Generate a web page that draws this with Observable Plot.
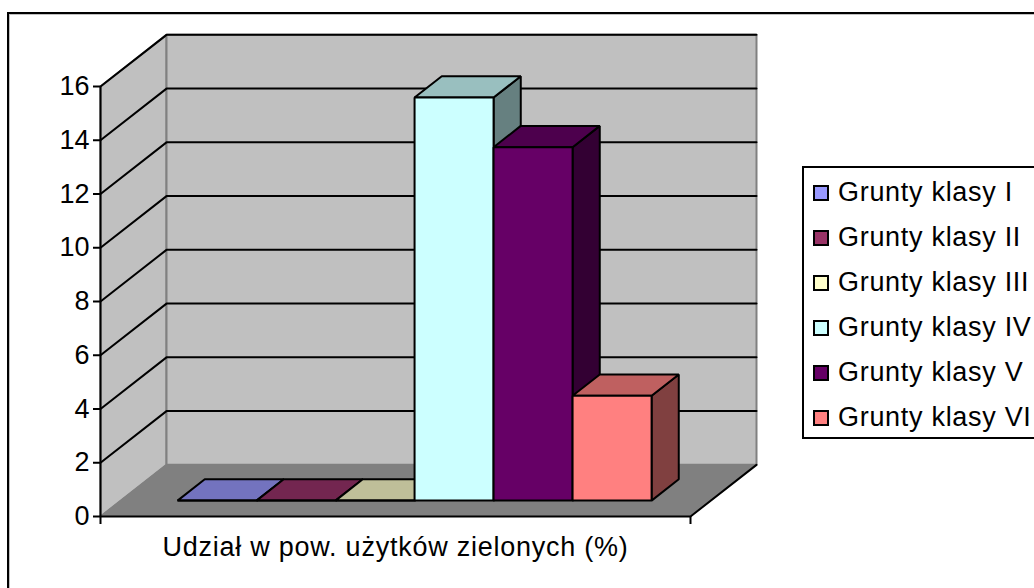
<!DOCTYPE html>
<html>
<head>
<meta charset="utf-8">
<script src="https://cdn.jsdelivr.net/npm/d3@7"></script>
<script src="https://cdn.jsdelivr.net/npm/@observablehq/plot@0.6"></script>
<style>
html,body{margin:0;padding:0;background:#fff;width:1034px;height:588px;overflow:hidden;font-family:"Liberation Sans",Arial,sans-serif;}
#frame{position:absolute;left:7px;top:12px;right:-10px;bottom:-10px;border:2px solid #000;box-shadow:inset 1px 1px 0 #c0c0c0;}
#chart{position:absolute;left:0;top:0;}
#legend{position:absolute;left:802px;top:166px;width:260px;height:269px;border:2px solid #000;background:#fff;}
.row{position:absolute;left:0;height:24px;white-space:nowrap;font-size:27px;letter-spacing:0.7px;color:#000;line-height:24px;}
.sw{position:absolute;left:9px;top:6px;width:12px;height:12px;border:2px solid #000;}
.lb{position:absolute;left:34px;top:1px;}
</style>
</head>
<body>
<div id="frame"></div>
<div id="chart"></div>
<div id="legend"></div>
<script>
// Data
const categories = ["Grunty klasy I","Grunty klasy II","Grunty klasy III","Grunty klasy IV","Grunty klasy V","Grunty klasy VI"];
const values = [0,0,0,15.0,13.15,3.9];
const fronts = ["#9999FF","#993366","#FFFFCC","#CCFFFF","#660066","#FF8080"];
const tops = ["#7373BF","#732650","#BFBF99","#99BFBF","#4D004D","#BF6060"];
const sides = ["#4D4D80","#4D1A33","#808066","#668080","#330033","#804040"];
const yTicks = [0,2,4,6,8,10,12,14,16];
const xTitle = "Udział w pow. użytków zielonych (%)";

// Oblique 3D projection in data units
const xMax = 7.468, yMax = 16;
const depthX = 66/79, depthY = 51.5/26.8;
const gap = 0.718, depthFront = 0.308, depthBack = 0.72;
const P = (x,d,v) => ({x: x + d*depthX, y: v + d*depthY});
const poly = (corners, opts) => Plot.line(corners.map(([x,d,v]) => P(x,d,v)), {x:"x", y:"y", curve:"linear-closed", strokeLinejoin:"miter", ...opts});
const path = (corners, opts) => Plot.line(corners.map(([x,d,v]) => P(x,d,v)), {x:"x", y:"y", strokeLinejoin:"miter", ...opts});

const marks = [
  // walls and floor
  poly([[0,0,0],[0,1,0],[0,1,yMax],[0,0,yMax]], {fill:"#C0C0C0", stroke:"#808080", strokeWidth:2}),
  poly([[0,1,0],[xMax,1,0],[xMax,1,yMax],[0,1,yMax]], {fill:"#C0C0C0", stroke:"#808080", strokeWidth:2}),
  poly([[0,0,0],[xMax,0,0],[xMax,1,0],[0,1,0]], {fill:"#808080", stroke:"#808080", strokeWidth:1}),
  // grid
  ...yTicks.filter(v => v > 0).map(v => path([[0,0,v],[0,1,v],[xMax,1,v]], {stroke:"#000", strokeWidth:2})),
  // floor front and right edge
  path([[0,0,0],[xMax,0,0],[xMax,1,0]], {stroke:"#000", strokeWidth:2}),
  Plot.ruleX([0], {y1:0, y2:yMax, stroke:"#000", strokeWidth:2}),
  Plot.axisY({ticks:yTicks, tickSize:7, tickPadding:4, label:null, fontSize:27, strokeWidth:2, stroke:"#000", color:"#000", tickFormat:d3.format("d")}),
  Plot.axisX({ticks:[0,xMax], tickSize:8, label:null, tickFormat:()=>"", strokeWidth:2, stroke:"#000"}),
  Plot.text([xTitle], {x:xMax*0.5, y:0, dy:31, text:d=>d, fontSize:27, fill:"#000"})
];
// bars, left to right
values.forEach((v,i) => {
  const a = gap + i, b = a + 1;
  const line = {stroke:"#000", strokeWidth:2};
  marks.push(poly([[b,depthFront,0],[b,depthBack,0],[b,depthBack,v],[b,depthFront,v]], {fill:sides[i], ...line}));
  marks.push(poly([[a,depthFront,v],[b,depthFront,v],[b,depthBack,v],[a,depthBack,v]], {fill:tops[i], ...line}));
  marks.push(poly([[a,depthFront,0],[b,depthFront,0],[b,depthFront,v],[a,depthFront,v]], {fill:fronts[i], ...line}));
});

const chart = Plot.plot({
  width:1034, height:588,
  marginLeft:100, marginRight:344, marginTop:86, marginBottom:72,
  style:{background:"transparent", fontFamily:"'Liberation Sans',Arial,sans-serif", overflow:"visible"},
  x:{domain:[0,xMax], axis:null},
  y:{domain:[0,yMax], axis:null},
  marks
});
chart.querySelectorAll("text").forEach(t => { if (t.textContent === xTitle) t.style.letterSpacing = "0.75px"; });
document.getElementById("chart").appendChild(chart);

// Legend
const leg = document.getElementById("legend");
categories.forEach((c,i) => {
  const r = document.createElement("div");
  r.className = "row";
  r.style.top = (11 + i*45) + "px";
  r.innerHTML = `<span class="sw" style="background:${fronts[i]}"></span><span class="lb">${c}</span>`;
  leg.appendChild(r);
});
</script>
</body>
</html>
